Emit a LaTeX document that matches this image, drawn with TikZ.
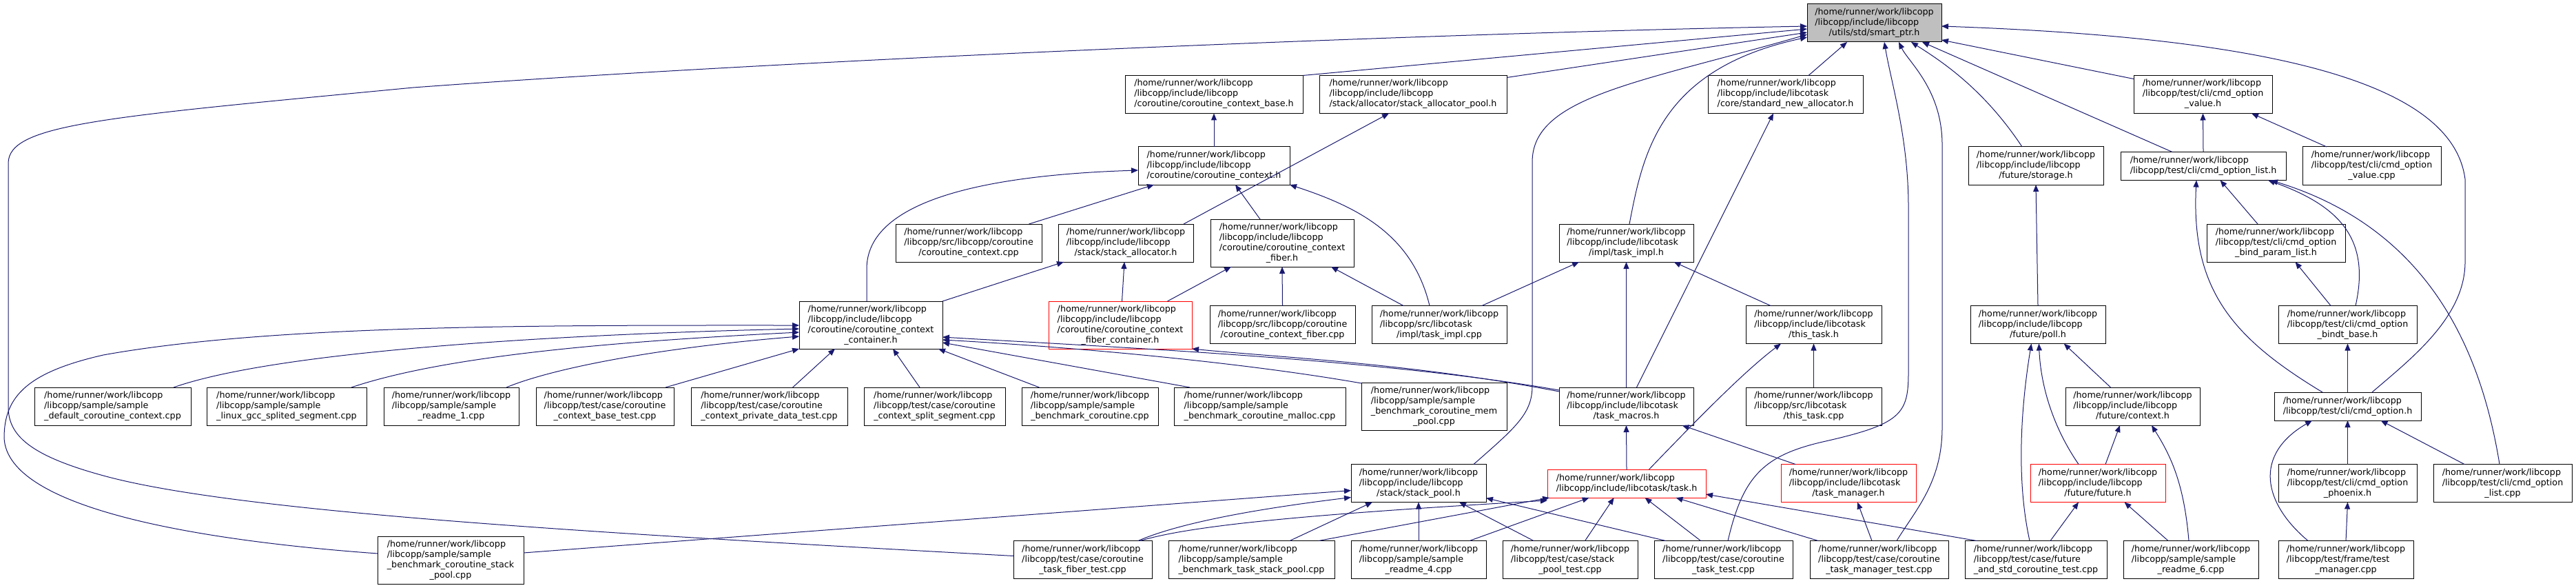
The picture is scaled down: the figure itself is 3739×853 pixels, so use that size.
\documentclass[tikz,border=0pt]{standalone}
\usepackage{fontspec}
\newfontfamily\dvs{DejaVu Sans}
\usetikzlibrary{arrows.meta,calc}
\definecolor{edgec}{HTML}{191970}
\definecolor{mainfill}{HTML}{BFBFBF}
\newcommand{\hp}{/home/runner/work/libcopp}
\newcommand{\Ltwo}[2]{\begin{tabular}{@{}l@{}}#1\\#2\end{tabular}}
\newcommand{\Lthree}[3]{\begin{tabular}{@{}l@{}}#1\\#2\\\multicolumn{1}{@{}c@{}}{#3}\end{tabular}}
\newcommand{\Lfour}[4]{\begin{tabular}{@{}l@{}}#1\\#2\\#3\\\multicolumn{1}{@{}c@{}}{#4}\end{tabular}}
\begin{document}
\begin{tikzpicture}[x=1pt,y=-1pt,
  box/.style={draw=black, line width=1pt, inner sep=0pt, outer sep=0pt, font={\dvs\fontsize{12.7}{15}\selectfont}},
  nd2/.style={box, minimum height=41},
  nd3/.style={box, minimum height=55},
  nd4/.style={box, minimum height=69},
  trunc/.style={draw=red},
  e/.style={draw=edgec, line width=1pt, -{Triangle[length=10pt,width=8pt]}}]
\fill[white] (0,0) rectangle (3739,853);
\useasboundingbox (0,0) rectangle (3739,853);

% row 0
\node[nd3, minimum width=195, fill=mainfill] (M) at (2720.5,33.5) {\Lthree{\hp}{/libcopp/include/libcopp}{/utils/std/smart\_ptr.h}};
% row 1
\node[nd3, minimum width=258] (CCB) at (1762,137) {\Lthree{\hp}{/libcopp/include/libcopp}{/coroutine/coroutine\_context\_base.h}};
\node[nd3, minimum width=272] (SAP) at (2051,137) {\Lthree{\hp}{/libcopp/include/libcopp}{/stack/allocator/stack\_allocator\_pool.h}};
\node[nd3, minimum width=225] (SNA) at (2591.5,137) {\Lthree{\hp}{/libcopp/include/libcotask}{/core/standard\_new\_allocator.h}};
\node[nd3, minimum width=201] (COV) at (3197.5,137) {\Lthree{\hp}{/libcopp/test/cli/cmd\_option}{\_value.h}};
% row 2
\node[nd3, minimum width=220] (CC) at (1762,240.5) {\Lthree{\hp}{/libcopp/include/libcopp}{/coroutine/coroutine\_context.h}};
\node[nd3, minimum width=196] (ST) at (2955,240.5) {\Lthree{\hp}{/libcopp/include/libcopp}{/future/storage.h}};
\node[nd2, minimum width=240] (COL) at (3198,241) {\Ltwo{\hp}{/libcopp/test/cli/cmd\_option\_list.h}};
\node[nd3, minimum width=201] (COVC) at (3442.5,240.5) {\Lthree{\hp}{/libcopp/test/cli/cmd\_option}{\_value.cpp}};
% row 3
\node[nd3, minimum width=212] (CCC) at (1406,352.5) {\Lthree{\hp}{/libcopp/src/libcopp/coroutine}{/coroutine\_context.cpp}};
\node[nd3, minimum width=196] (SA) at (1634,352.5) {\Lthree{\hp}{/libcopp/include/libcopp}{/stack/stack\_allocator.h}};
\node[nd4, minimum width=208] (CCF) at (1861,352.5) {\Lfour{\hp}{/libcopp/include/libcopp}{/coroutine/coroutine\_context}{\_fiber.h}};
\node[nd3, minimum width=195] (TI) at (2360.5,352.5) {\Lthree{\hp}{/libcopp/include/libcotask}{/impl/task\_impl.h}};
\node[nd3, minimum width=201] (BPL) at (3303.5,352.5) {\Lthree{\hp}{/libcopp/test/cli/cmd\_option}{\_bind\_param\_list.h}};
% row 4
\node[nd4, minimum width=208] (CON) at (1264,471.5) {\Lfour{\hp}{/libcopp/include/libcopp}{/coroutine/coroutine\_context}{\_container.h}};
\node[nd4, minimum width=208, trunc] (FCON) at (1626,471.5) {\Lfour{\hp}{/libcopp/include/libcopp}{/coroutine/coroutine\_context}{\_fiber\_container.h}};
\node[nd3, minimum width=211] (CCFC) at (1861.5,471) {\Lthree{\hp}{/libcopp/src/libcopp/coroutine}{/coroutine\_context\_fiber.cpp}};
\node[nd3, minimum width=196] (TIC) at (2089,471) {\Lthree{\hp}{/libcopp/src/libcotask}{/impl/task\_impl.cpp}};
\node[nd3, minimum width=197] (TT) at (2632.5,471) {\Lthree{\hp}{/libcopp/include/libcotask}{/this\_task.h}};
\node[nd3, minimum width=196] (PO) at (2958,471) {\Lthree{\hp}{/libcopp/include/libcopp}{/future/poll.h}};
\node[nd3, minimum width=201] (BB) at (3407.5,471) {\Lthree{\hp}{/libcopp/test/cli/cmd\_option}{\_bindt\_base.h}};
% row 5
\node[nd3, minimum width=227] (S1) at (163.5,589.5) {\Lthree{\hp}{/libcopp/sample/sample}{\_default\_coroutine\_context.cpp}};
\node[nd3, minimum width=232] (S2) at (416,589.5) {\Lthree{\hp}{/libcopp/sample/sample}{\_linux\_gcc\_splited\_segment.cpp}};
\node[nd3, minimum width=196] (S3) at (655,589.5) {\Lthree{\hp}{/libcopp/sample/sample}{\_readme\_1.cpp}};
\node[nd3, minimum width=200] (T1) at (878,589.5) {\Lthree{\hp}{/libcopp/test/case/coroutine}{\_context\_base\_test.cpp}};
\node[nd3, minimum width=227] (T2) at (1116.5,589.5) {\Lthree{\hp}{/libcopp/test/case/coroutine}{\_context\_private\_data\_test.cpp}};
\node[nd3, minimum width=205] (T3) at (1356.5,589.5) {\Lthree{\hp}{/libcopp/test/case/coroutine}{\_context\_split\_segment.cpp}};
\node[nd3, minimum width=198] (S4) at (1582,589.5) {\Lthree{\hp}{/libcopp/sample/sample}{\_benchmark\_coroutine.cpp}};
\node[nd3, minimum width=249] (S5) at (1828.5,589.5) {\Lthree{\hp}{/libcopp/sample/sample}{\_benchmark\_coroutine\_malloc.cpp}};
\node[nd4, minimum width=211] (S6) at (2081.5,589.5) {\Lfour{\hp}{/libcopp/sample/sample}{\_benchmark\_coroutine\_mem}{\_pool.cpp}};
\node[nd3, minimum width=195] (TM) at (2360.5,589.5) {\Lthree{\hp}{/libcopp/include/libcotask}{/task\_macros.h}};
\node[nd3, minimum width=197] (TTC) at (2632.5,589.5) {\Lthree{\hp}{/libcopp/src/libcotask}{/this\_task.cpp}};
\node[nd3, minimum width=195] (FC) at (3095.5,589.5) {\Lthree{\hp}{/libcopp/include/libcopp}{/future/context.h}};
\node[nd2, minimum width=213] (CO) at (3407.5,589.5) {\Ltwo{\hp}{/libcopp/test/cli/cmd\_option.h}};
% row 6
\node[nd3, minimum width=196] (SP) at (2059,701) {\Lthree{\hp}{/libcopp/include/libcopp}{/stack/stack\_pool.h}};
\node[nd2, minimum width=230, trunc] (TK) at (2361,701.5) {\Ltwo{\hp}{/libcopp/include/libcotask/task.h}};
\node[nd3, minimum width=196, trunc] (TMG) at (2683,701) {\Lthree{\hp}{/libcopp/include/libcotask}{/task\_manager.h}};
\node[nd3, minimum width=196, trunc] (FU) at (3045,701) {\Lthree{\hp}{/libcopp/include/libcopp}{/future/future.h}};
\node[nd3, minimum width=201] (PH) at (3407.5,701) {\Lthree{\hp}{/libcopp/test/cli/cmd\_option}{\_phoenix.h}};
\node[nd3, minimum width=201] (OLC) at (3632.5,701) {\Lthree{\hp}{/libcopp/test/cli/cmd\_option}{\_list.cpp}};
% row 7
\node[nd4, minimum width=212] (B1) at (654,812.5) {\Lfour{\hp}{/libcopp/sample/sample}{\_benchmark\_coroutine\_stack}{\_pool.cpp}};
\node[nd3, minimum width=201] (B2) at (1571.5,812) {\Lthree{\hp}{/libcopp/test/case/coroutine}{\_task\_fiber\_test.cpp}};
\node[nd3, minimum width=241] (B3) at (1816.5,812) {\Lthree{\hp}{/libcopp/sample/sample}{\_benchmark\_task\_stack\_pool.cpp}};
\node[nd3, minimum width=196] (B4) at (2059,812) {\Lthree{\hp}{/libcopp/sample/sample}{\_readme\_4.cpp}};
\node[nd3, minimum width=196] (B5) at (2279,812) {\Lthree{\hp}{/libcopp/test/case/stack}{\_pool\_test.cpp}};
\node[nd3, minimum width=201] (B6) at (2501.5,812) {\Lthree{\hp}{/libcopp/test/case/coroutine}{\_task\_test.cpp}};
\node[nd3, minimum width=201] (B7) at (2727.5,812) {\Lthree{\hp}{/libcopp/test/case/coroutine}{\_task\_manager\_test.cpp}};
\node[nd3, minimum width=206] (B8) at (2955,812) {\Lthree{\hp}{/libcopp/test/case/future}{\_and\_std\_coroutine\_test.cpp}};
\node[nd3, minimum width=196] (B9) at (3180,812) {\Lthree{\hp}{/libcopp/sample/sample}{\_readme\_6.cpp}};
\node[nd3, minimum width=196] (B10) at (3405,812) {\Lthree{\hp}{/libcopp/test/frame/test}{\_manager.cpp}};

% edges into smart_ptr.h
\draw[e] ($(B2.north west)+(0,22)$) .. controls (900,775) and (350,745) .. (150,690) .. controls (40,660) and (12,630) .. (12,590) -- (12,237) .. controls (12,180) and (150,170) .. (600,127) .. controls (1100,90) and (2000,50) .. ($(M.north west)+(0,32)$);
\draw[e] (CCB.north east) -- ($(M.north west)+(0,36)$);
\draw[e] ($(SAP.north east)+(0,3)$) -- ($(M.north west)+(0,41)$);
\draw[e] ($(SP.north west)+(178,0)$) .. controls (2200,620) and (2224,600) .. (2224,560) -- (2224,235) .. controls (2224,140) and (2380,120) .. ($(M.north west)+(0,44)$);
\draw[e] ($(TI.north west)+(102,0)$) .. controls (2385,220) and (2410,100) .. ($(M.north west)+(0,48)$);
\draw[e] ($(SNA.north west)+(146,0)$) -- ($(M.south west)+(58,0)$);
\draw[e] ($(B6.north west)+(107,0)$) .. controls (2530,690) and (2560,660) .. (2650,640) .. controls (2760,615) and (2770,600) .. (2770,540) -- (2770,300) .. controls (2770,200) and (2745,120) .. ($(M.south west)+(112,0)$);
\draw[e] ($(B7.north west)+(126,0)$) .. controls (2780,740) and (2819,700) .. (2819,620) -- (2819,210) .. controls (2819,130) and (2770,90) .. ($(M.south west)+(133,0)$);
\draw[e] ($(ST.north west)+(78,0)$) .. controls (2880,130) and (2820,90) .. ($(M.south west)+(151,0)$);
\draw[e] ($(COL.north west)+(75,0)$) -- ($(M.south east)+(-28,0)$);
\draw[e] ($(COV.north west)+(0,5)$) -- ($(M.north east)+(0,52)$);
\draw[e] ($(CO.north west)+(142,0)$) .. controls (3500,520) and (3578,460) .. (3578,380) -- (3578,260) .. controls (3560,120) and (3300,55) .. ($(M.north east)+(0,32)$);

% coroutine part
\draw[e] (CC.north) -- (CCB.south);
\draw[e] ($(CON.north west)+(98,0)$) -- (1258,390) .. controls (1258,300) and (1400,255) .. ($(CC.north west)+(0,34)$);
\draw[e] ($(CCC.north west)+(193.5,0)$) -- ($(CC.south west)+(23,0)$);
\draw[e] ($(CCF.north west)+(72,0)$) -- ($(CC.south west)+(141,0)$);
\draw[e] ($(TIC.north west)+(84,0)$) .. controls (2050,340) and (1970,300) .. (CC.south east);
\draw[e] ($(SA.north west)+(182,0)$) -- ($(SAP.south west)+(101,0)$);
\draw[e] (CON.north east) -- ($(SA.south west)+(8,0)$);
\draw[e] ($(FCON.north west)+(106.5,0)$) -- ($(SA.south west)+(96,0)$);
\draw[e] ($(FCON.north west)+(172.5,0)$) -- ($(CCF.south west)+(30,0)$);
\draw[e] (CCFC.north) -- (CCF.south);
\draw[e] ($(TIC.north west)+(46,0)$) -- ($(CCF.south west)+(175,0)$);
\draw[e] ($(TIC.north west)+(160,0)$) -- ($(TI.south west)+(29,0)$);
\draw[e] (TM.north) -- (TI.south);
\draw[e] ($(TT.north west)+(36,0)$) -- ($(TI.south west)+(166.5,0)$);
\draw[e] ($(TM.north west)+(112.5,0)$) -- ($(SNA.south west)+(95,0)$);
\draw[e] (TTC.north) -- (TT.south);
\draw[e] ($(TK.north west)+(147.5,0)$) .. controls (2460,612) and (2530,540) .. ($(TT.south west)+(51,0)$);
\draw[e] (TK.north) -- (TM.south);
\draw[e] ($(TMG.north west)+(21,0)$) -- ($(TM.south west)+(178.5,0)$);
\draw[e] ($(TM.north west)+(0,4)$) .. controls (2000,520) and (1600,503) .. ($(CON.north east)+(0,52)$);
\draw[e] ($(TM.north west)+(0,6)$) .. controls (2050,527) and (1850,518) .. (FCON.south east);
\draw[e] ($(S6.north west)+(0,1)$) .. controls (1800,525) and (1550,503) .. ($(CON.north east)+(0,56)$);

% into container
\draw[e] ($(B1.north west)+(0,25)$) .. controls (300,785) and (10,740) .. (6,635) .. controls (6,575) and (40,540) .. (150,515) .. controls (400,470) and (800,472) .. ($(CON.north west)+(0,35)$);
\draw[e] ($(S1.north west)+(202,0)$) .. controls (400,510) and (800,485) .. ($(CON.north west)+(0,40)$);
\draw[e] ($(S2.north west)+(210,0)$) .. controls (650,515) and (900,495) .. ($(CON.north west)+(0,45)$);
\draw[e] ($(S3.north west)+(178,0)$) .. controls (800,535) and (950,505) .. ($(CON.north west)+(0,51)$);
\draw[e] ($(T1.north west)+(188,0)$) -- (CON.south west);
\draw[e] ($(T2.north west)+(147.6,0)$) -- ($(CON.south west)+(52,0)$);
\draw[e] ($(T3.north west)+(81,0)$) -- ($(CON.south west)+(136,0)$);
\draw[e] ($(S4.north west)+(25.5,0)$) -- ($(CON.south east)+(-6,0)$);
\draw[e] ($(S5.north west)+(23,0)$) -- ($(CON.south east)+(0,-9)$);

% stack_pool and task
\draw[e] ($(B1.north east)+(0,24)$) -- ($(SP.north west)+(0,38)$);
\draw[e] ($(B2.north west)+(181,0)$) .. controls (1720,755) and (1850,735) .. ($(SP.north west)+(0,48)$);
\draw[e] ($(B2.north west)+(184,0)$) .. controls (1730,762) and (1900,746) .. ($(TK.south west)+(0,4)$);
\draw[e] ($(B3.north west)+(176,0)$) -- ($(SP.south west)+(31,0)$);
\draw[e] ($(B3.north west)+(218,0)$) -- ($(TK.south west)+(3,0)$);
\draw[e] (B4.north) -- (SP.south);
\draw[e] ($(B4.north west)+(172,0)$) -- ($(TK.south west)+(60.6,0)$);
\draw[e] ($(B5.north west)+(45,0)$) -- ($(SP.south west)+(157,0)$);
\draw[e] ($(B5.north west)+(119.6,0)$) -- ($(TK.south west)+(96.6,0)$);
\draw[e] ($(B6.north west)+(16.6,0)$) -- ($(SP.south east)+(0,-6)$);
\draw[e] ($(B6.north west)+(67.5,0)$) -- ($(TK.south west)+(141.5,0)$);
\draw[e] ($(B7.north west)+(12,0)$) -- ($(TK.south west)+(186.5,0)$);
\draw[e] ($(B7.north west)+(90,0)$) -- ($(TMG.south west)+(111,0)$);
\draw[e] ($(B8.north west)+(17,0)$) -- ($(TK.north east)+(0,36)$);

% future
\draw[e] ($(B8.north west)+(94,0)$) .. controls (2925,690) and (2935,580) .. ($(PO.south west)+(88.5,0)$);
\draw[e] ($(FU.north west)+(70,0)$) .. controls (2980,620) and (2962,560) .. ($(PO.south west)+(99.4,0)$);
\draw[e] ($(FC.north west)+(65.5,0)$) -- ($(PO.south west)+(135.7,0)$);
\draw[e] (PO.north) -- (ST.south);
\draw[e] ($(FU.north west)+(109,0)$) -- ($(FC.south west)+(79,0)$);
\draw[e] ($(B9.north west)+(95,0)$) .. controls (3170,700) and (3150,660) .. ($(FC.south west)+(125,0)$);
\draw[e] ($(B8.north west)+(124,0)$) -- ($(FU.south west)+(70,0)$);
\draw[e] ($(B9.north west)+(65,0)$) -- ($(FU.south west)+(136.5,0)$);

% cli
\draw[e] ($(CO.north west)+(70,0)$) .. controls (3240,490) and (3180,420) .. ($(COL.south west)+(110,0)$);
\draw[e] ($(BPL.north west)+(74,0)$) -- ($(COL.south west)+(144.6,0)$);
\draw[e] ($(BB.north west)+(112,0)$) .. controls (3440,350) and (3400,300) .. ($(COL.south east)+(-26,0)$);
\draw[e] ($(OLC.north west)+(96,0)$) .. controls (3600,500) and (3520,330) .. ($(COL.south east)+(-22,0)$);
\draw[e] (COL.north) -- (COV.south);
\draw[e] ($(COVC.north west)+(35,0)$) -- ($(COV.south west)+(171,0)$);
\draw[e] ($(BB.north west)+(76,0)$) -- ($(BPL.south west)+(128.5,0)$);
\draw[e] (CO.north) -- (BB.south);
\draw[e] (PH.north) -- (CO.south);
\draw[e] ($(OLC.north west)+(45,0)$) -- ($(CO.south west)+(154.5,0)$);
\draw[e] ($(B10.north west)+(43,0)$) .. controls (3285,730) and (3270,660) .. ($(CO.south west)+(55,0)$);
\draw[e] (B10.north) -- (PH.south);
\end{tikzpicture}
\end{document}
